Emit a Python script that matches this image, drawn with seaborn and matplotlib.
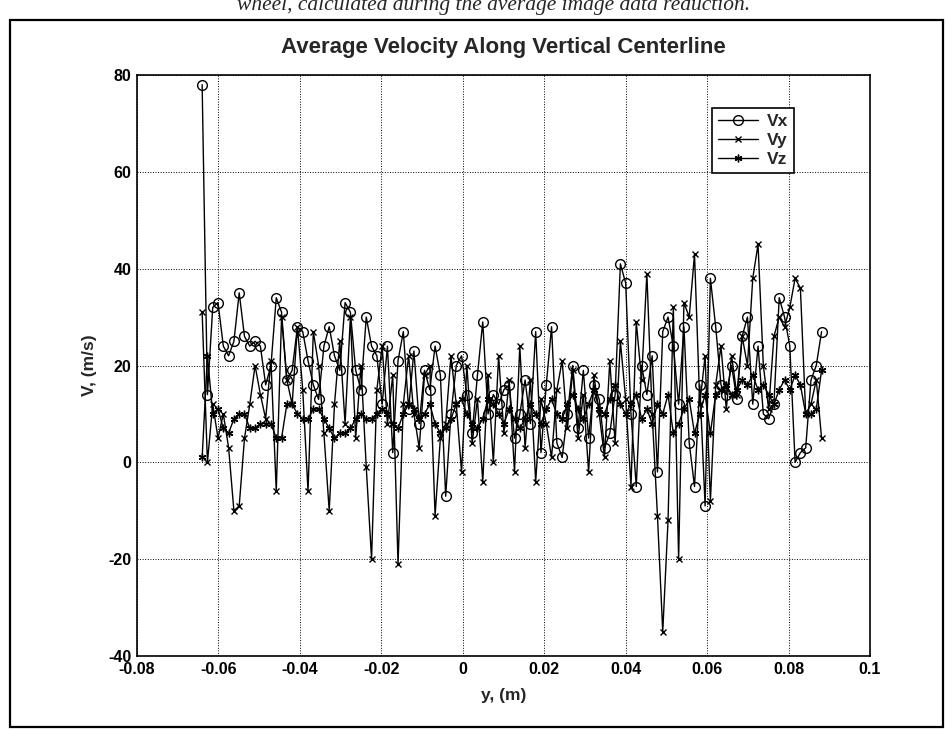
#
# Average velocity along the vertical centerline (scanned MATLAB figure)
#

import matplotlib
matplotlib.use("Agg")
import matplotlib.pyplot as plt
import seaborn as sns
from matplotlib.patches import Rectangle
from matplotlib.lines import Line2D

##################################################################
#
# data
#
y_pos = [
    -0.0640, -0.0627, -0.0614, -0.0601, -0.0588, -0.0575, -0.0562, -0.0549, -0.0536, -0.0523,
    -0.0510, -0.0497, -0.0484, -0.0471, -0.0458, -0.0445, -0.0432, -0.0419, -0.0406, -0.0393,
    -0.0380, -0.0367, -0.0354, -0.0341, -0.0328, -0.0315, -0.0302, -0.0289, -0.0276, -0.0263,
    -0.0250, -0.0237, -0.0224, -0.0211, -0.0198, -0.0185, -0.0172, -0.0159, -0.0146, -0.0133,
    -0.0120, -0.0107, -0.0094, -0.0081, -0.0068, -0.0055, -0.0042, -0.0029, -0.0016, -0.0003,
    0.0010, 0.0023, 0.0036, 0.0049, 0.0062, 0.0075, 0.0088, 0.0101, 0.0114, 0.0127,
    0.0140, 0.0153, 0.0166, 0.0179, 0.0192, 0.0205, 0.0218, 0.0231, 0.0244, 0.0257,
    0.0270, 0.0283, 0.0296, 0.0309, 0.0322, 0.0335, 0.0348, 0.0361, 0.0374, 0.0387,
    0.0400, 0.0413, 0.0426, 0.0439, 0.0452, 0.0465, 0.0478, 0.0491, 0.0504, 0.0517,
    0.0530, 0.0543, 0.0556, 0.0569, 0.0582, 0.0595, 0.0608, 0.0621, 0.0634, 0.0647,
    0.0660, 0.0673, 0.0686, 0.0699, 0.0712, 0.0725, 0.0738, 0.0751, 0.0764, 0.0777,
    0.0790, 0.0803, 0.0816, 0.0829, 0.0842, 0.0855, 0.0868, 0.0881,
]

vx = [
    78, 14, 32, 33, 24, 22, 25, 35, 26, 24,
    25, 24, 16, 20, 34, 31, 17, 19, 28, 27,
    21, 16, 13, 24, 28, 22, 19, 33, 31, 19,
    15, 30, 24, 22, 12, 24, 2, 21, 27, 11,
    23, 8, 19, 15, 24, 18, -7, 10, 20, 22,
    14, 6, 18, 29, 10, 14, 12, 15, 16, 5,
    10, 17, 8, 27, 2, 16, 28, 4, 1, 10,
    20, 7, 19, 5, 16, 13, 3, 6, 14, 41,
    37, 10, -5, 20, 14, 22, -2, 27, 30, 24,
    12, 28, 4, -5, 16, -9, 38, 28, 16, 14,
    20, 13, 26, 30, 12, 24, 10, 9, 12, 34,
    30, 24, 0, 2, 3, 17, 20, 27,
]

vy = [
    31, 0, 12, 5, 10, 3, -10, -9, 5, 12,
    20, 14, 9, 21, -6, 30, 17, 12, 28, 15,
    -6, 27, 20, 6, -10, 12, 25, 8, 30, 5,
    20, -1, -20, 15, 24, 8, 18, -21, 12, 22,
    10, 3, 18, 20, -11, 5, 8, 22, 12, -2,
    20, 4, 13, -4, 18, 0, 22, 6, 17, -2,
    24, 3, 17, -4, 13, 8, 1, 15, 21, 7,
    19, 5, 14, -2, 18, 10, 1, 21, 4, 25,
    13, -5, 29, 17, 39, 10, -11, -35, -12, 32,
    -20, 33, 30, 43, 12, 22, -8, 16, 24, 11,
    22, 14, 26, 20, 38, 45, 20, 11, 26, 30,
    28, 32, 38, 36, 10, 12, 17, 5,
]

vz = [
    1, 22, 10, 11, 7, 6, 9, 10, 10, 7,
    7, 8, 8, 8, 5, 5, 12, 12, 10, 9,
    9, 11, 11, 9, 7, 5, 6, 6, 7, 9,
    10, 9, 9, 10, 11, 10, 8, 7, 10, 12,
    11, 9, 10, 12, 8, 6, 7, 9, 12, 13,
    10, 8, 7, 9, 13, 12, 10, 8, 11, 9,
    7, 9, 12, 10, 8, 11, 13, 10, 9, 12,
    14, 11, 9, 12, 15, 11, 10, 13, 16, 12,
    10, 12, 14, 9, 11, 8, 12, 10, 14, 6,
    8, 11, 13, 6, 10, 14, 6, 14, 15, 16,
    14, 15, 17, 16, 18, 15, 16, 14, 12, 15,
    17, 15, 18, 16, 10, 10, 11, 19,
]

x_ticks = [-0.08, -0.06, -0.04, -0.02, 0, 0.02, 0.04, 0.06, 0.08, 0.1]
x_tick_labels = ["-0.08", "-0.06", "-0.04", "-0.02", "0", "0.02", "0.04", "0.06", "0.08", "0.1"]
v_ticks = [-40, -20, 0, 20, 40, 60, 80]

##################################################################
#
# main
#
sns.set_theme(style="white")
plt.rcParams['font.family'] = ['Liberation Sans', 'DejaVu Sans']
plt.rcParams['axes.unicode_minus'] = False

fig = plt.figure(figsize=(9.46, 7.31), dpi=100)
ax = fig.add_axes([0.1448, 0.1026, 0.7749, 0.7948])

asterisk = (6, 2, 0)
series = [
    (vx, 'o', 7.0, 'Vx'),
    (vy, 'x', 4.5, 'Vy'),
    (vz, asterisk, 5.5, 'Vz'),
]
for vals, mk, ms, name in series:
    sns.lineplot(x=y_pos, y=vals, ax=ax, sort=False, estimator=None,
                 color='black', linewidth=1.0, marker=mk, markersize=ms,
                 markerfacecolor='none', markeredgecolor='black',
                 markeredgewidth=1.0, legend=False)

ax.set_xlim(-0.08, 0.1)
ax.set_ylim(-40, 80)
ax.set_xticks(x_ticks)
ax.set_xticklabels(x_tick_labels)
ax.set_yticks(v_ticks)
ax.grid(True, color='black', linestyle=':', linewidth=0.7)
ax.tick_params(direction='in', length=5, width=0.9, labelsize=11.5,
               colors='black', pad=4)
for lab in ax.get_xticklabels() + ax.get_yticklabels():
    lab.set_fontweight('bold')
for s in ax.spines.values():
    s.set_color('black')
    s.set_linewidth(1.2)

ax.set_title('Average Velocity Along Vertical Centerline', fontsize=16,
             fontweight='bold', pad=16)
ax.set_xlabel('y, (m)', fontsize=12.5, fontweight='bold', labelpad=8)
ax.set_ylabel('V, (m/s)', fontsize=12.5, fontweight='bold', labelpad=8)

# legend in a plain box, MATLAB style
handles = [
    Line2D([], [], color='black', lw=1.0, marker='o', ms=7.0, mfc='none', mew=1.0),
    Line2D([], [], color='black', lw=1.0, marker='x', ms=4.5, mew=1.0),
    Line2D([], [], color='black', lw=1.0, marker=asterisk, ms=5.5, mew=1.0),
]
leg = ax.legend(handles, ['Vx', 'Vy', 'Vz'], loc='upper left',
                bbox_to_anchor=(0.784, 0.943), borderaxespad=0,
                prop={'size': 12.5, 'weight': 'bold'}, frameon=True,
                fancybox=False, edgecolor='black', framealpha=1,
                handlelength=2.3, handletextpad=0.5, labelspacing=0.2,
                borderpad=0.35)
leg.get_frame().set_linewidth(1.2)

# report caption and border round the figure
fig.text(0.522, 1 - 10 / 731, 'wheel, calculated during the average image data reduction.',
         ha='center', va='baseline', fontsize=15.5, fontstyle='italic',
         family=['Liberation Serif', 'DejaVu Serif'])
fig.patches.append(Rectangle((10 / 946, 1 - 727 / 731), 933 / 946, 707 / 731,
                             transform=fig.transFigure, fill=False,
                             edgecolor='black', linewidth=1.6))

fig.savefig('out.png', dpi=100)
